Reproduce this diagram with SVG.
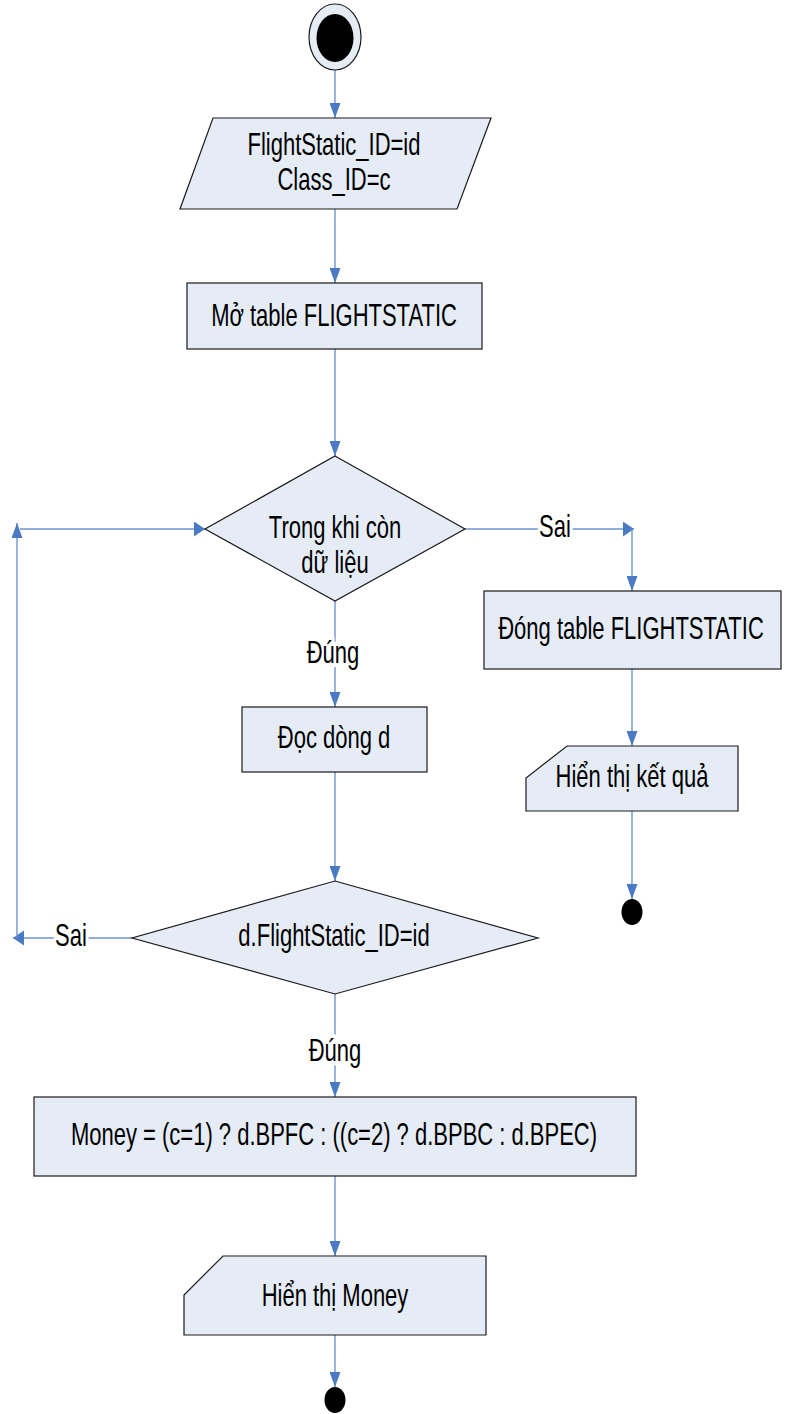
<svg xmlns="http://www.w3.org/2000/svg" width="787" height="1414" viewBox="0 0 787 1414">
  <style>
    .shape { fill: #E6ECF6; stroke: #1a1a1a; stroke-width: 1.2; }
    .conn { fill: none; stroke: #6E95CD; stroke-width: 1.4; }
    .lbl { font-family: "Liberation Sans", Arial, sans-serif; font-size: 22px; fill: #000; text-anchor: middle; }
    .edge-lbl { paint-order: stroke; stroke: #ffffff; stroke-width: 6px; stroke-linejoin: round; }
  </style>
  <defs>
    <!-- arrowheads: taller than wide on vertical runs, as the drawing is stretched vertically -->
    <marker id="arrow-v" markerUnits="userSpaceOnUse" markerWidth="16" markerHeight="11" refX="15" refY="5.5" orient="auto">
      <path d="M0,0 L15,5.5 L0,11 z" fill="#4A7AC2"/>
    </marker>
    <marker id="arrow-h" markerUnits="userSpaceOnUse" markerWidth="12" markerHeight="16" refX="11" refY="7.5" orient="auto">
      <path d="M0,0 L11,7.5 L0,15 z" fill="#4A7AC2"/>
    </marker>
  </defs>

  <rect width="787" height="1414" fill="#ffffff"/>

  <!-- connectors -->
  <g id="connectors">
    <line class="conn" x1="335" y1="70" x2="335" y2="118" marker-end="url(#arrow-v)"/>
    <line class="conn" x1="335" y1="209" x2="335" y2="283" marker-end="url(#arrow-v)"/>
    <line class="conn" x1="335" y1="349" x2="335" y2="456" marker-end="url(#arrow-v)"/>
    <line class="conn" x1="335" y1="601" x2="335" y2="707" marker-end="url(#arrow-v)"/>
    <line class="conn" x1="335" y1="772" x2="335" y2="881" marker-end="url(#arrow-v)"/>
    <line class="conn" x1="335" y1="994" x2="335" y2="1097" marker-end="url(#arrow-v)"/>
    <line class="conn" x1="335" y1="1176" x2="335" y2="1256" marker-end="url(#arrow-v)"/>
    <line class="conn" x1="335" y1="1335" x2="335" y2="1387" marker-end="url(#arrow-v)"/>
    <!-- false branch of the loop test -->
    <line class="conn" x1="465" y1="529" x2="634" y2="529" marker-end="url(#arrow-h)"/>
    <line class="conn" x1="632" y1="529" x2="632" y2="591" marker-end="url(#arrow-v)"/>
    <line class="conn" x1="632" y1="669" x2="632" y2="746" marker-end="url(#arrow-v)"/>
    <line class="conn" x1="632" y1="811" x2="632" y2="899" marker-end="url(#arrow-v)"/>
    <!-- loop back when the id does not match -->
    <line class="conn" x1="132" y1="938" x2="13" y2="938" marker-end="url(#arrow-h)"/>
    <line class="conn" x1="17" y1="938" x2="17" y2="523" marker-end="url(#arrow-v)"/>
    <line class="conn" x1="20" y1="529" x2="205" y2="529" marker-end="url(#arrow-h)"/>
    <!-- edge labels -->
    <text class="lbl edge-lbl" transform="translate(555,537) scale(1,1.4)">Sai</text>
    <text class="lbl edge-lbl" transform="translate(333,663) scale(1,1.4)">Đúng</text>
    <text class="lbl edge-lbl" transform="translate(71,946) scale(1,1.4)">Sai</text>
    <text class="lbl edge-lbl" transform="translate(335,1061) scale(1,1.4)">Đúng</text>
  </g>

  <!-- start -->
  <g id="start">
    <ellipse class="shape" cx="335" cy="37" rx="26" ry="33"/>
    <ellipse cx="335" cy="38" rx="18.5" ry="24" fill="#000"/>
  </g>

  <g id="input-params">
    <polygon class="shape" points="213,118 491,118 457,209 180,209"/>
    <text class="lbl" transform="translate(334,155) scale(1,1.4)">FlightStatic_ID=id</text>
    <text class="lbl" transform="translate(334,190) scale(1,1.4)">Class_ID=c</text>
  </g>

  <g id="open-table">
    <rect class="shape" x="187" y="283" width="295" height="66"/>
    <text class="lbl" transform="translate(334,326) scale(1,1.4)">Mở table FLIGHTSTATIC</text>
  </g>

  <g id="while-data">
    <polygon class="shape" points="335,456 465,529 335,601 205,529"/>
    <text class="lbl" transform="translate(335,538) scale(1,1.4)">Trong khi còn</text>
    <text class="lbl" transform="translate(335,573) scale(1,1.4)">dữ liệu</text>
  </g>

  <g id="close-table">
    <rect class="shape" x="484" y="591" width="297" height="78"/>
    <text class="lbl" transform="translate(631,639) scale(1,1.4)">Đóng table FLIGHTSTATIC</text>
  </g>

  <g id="show-result">
    <polygon class="shape" points="567,746 738,746 738,811 526,811 526,778"/>
    <text class="lbl" transform="translate(632,787) scale(1,1.4)">Hiển thị kết quả</text>
  </g>

  <g id="end-1">
    <ellipse cx="632" cy="912" rx="10.5" ry="13" fill="#000"/>
  </g>

  <g id="read-row">
    <rect class="shape" x="242" y="707" width="185" height="65"/>
    <text class="lbl" transform="translate(334,748) scale(1,1.4)">Đọc dòng d</text>
  </g>

  <g id="match-id">
    <polygon class="shape" points="335,881 538,938 335,994 132,938"/>
    <text class="lbl" transform="translate(334,946) scale(1,1.4)">d.FlightStatic_ID=id</text>
  </g>

  <g id="compute-money">
    <rect class="shape" x="34" y="1097" width="602" height="79"/>
    <text class="lbl" transform="translate(334,1145) scale(1,1.4)">Money = (c=1) ? d.BPFC : ((c=2) ? d.BPBC : d.BPEC)</text>
  </g>

  <g id="show-money">
    <polygon class="shape" points="223,1256 486,1256 486,1335 184,1335 184,1295"/>
    <text class="lbl" transform="translate(335,1306) scale(1,1.4)">Hiển thị Money</text>
  </g>

  <g id="end-2">
    <ellipse cx="335" cy="1400" rx="10.5" ry="13" fill="#000"/>
  </g>
</svg>
